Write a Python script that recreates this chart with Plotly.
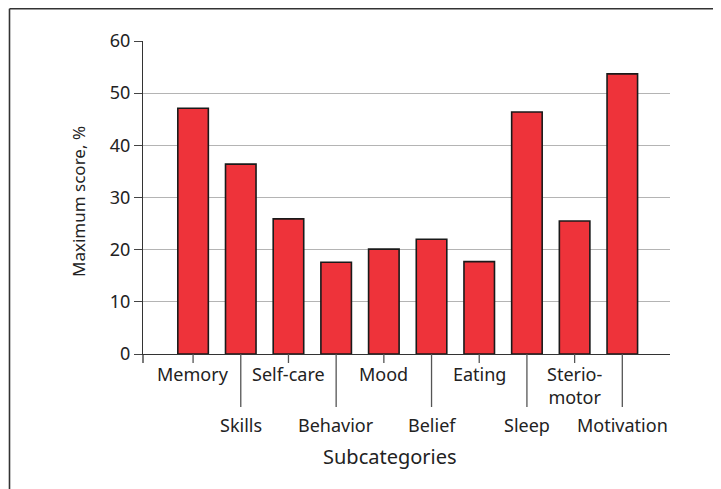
import plotly.graph_objects as go

categories = ["Memory", "Skills", "Self-care", "Behavior", "Mood",
              "Belief", "Eating", "Sleep", "Sterio-<br>motor", "Motivation"]
values = [47.1, 36.4, 25.9, 17.6, 20.1, 22.0, 17.7, 46.4, 25.5, 53.7]
y_ticks = [0, 10, 20, 30, 40, 50, 60]

FONT = "Noto Sans"
TXT = "#222222"
positions = list(range(len(categories)))

fig = go.Figure()
fig.add_trace(go.Bar(
    x=positions, y=values, width=0.64,
    marker=dict(color="#EE333A", line=dict(color="#1a1a1a", width=1.6)),
    hoverinfo="skip",
))

shapes = []
annotations = []
for i, (p, c) in enumerate(zip(positions, categories)):
    lower = i % 2 == 1
    shapes.append(dict(type="line", xref="x", yref="paper", x0=p, x1=p,
                       y0=0, y1=-(53 / 313) if lower else -(9 / 313),
                       line=dict(color="#555555", width=1.3)))
    annotations.append(dict(xref="x", yref="paper", x=p, y=0,
                            xanchor="center", yanchor="top",
                            yshift=-57 if lower else -6,
                            text=c, showarrow=False,
                            font=dict(family=FONT, size=18, color=TXT)))

# small tick at axis start
shapes.append(dict(type="line", xref="paper", yref="paper", x0=0, x1=0,
                   y0=0, y1=-(9 / 313), line=dict(color="#333333", width=1.3)))
# outer frame (left and top)
shapes.append(dict(type="line", xref="paper", yref="paper",
                   x0=(9.5 - 143) / 527, x1=(730 - 143) / 527,
                   y0=1 + (41 - 8.8) / 313, y1=1 + (41 - 8.8) / 313,
                   line=dict(color="#333333", width=1.6)))
shapes.append(dict(type="line", xref="paper", yref="paper",
                   x0=(9.5 - 143) / 527, x1=(9.5 - 143) / 527,
                   y0=1 + (41 - 8.8) / 313, y1=(354 - 495) / 313,
                   line=dict(color="#333333", width=1.6)))

annotations.append(dict(xref="paper", yref="paper", x=(390 - 143) / 527, y=0,
                        xanchor="center", yanchor="middle", yshift=-102,
                        text="Subcategories", showarrow=False,
                        font=dict(family=FONT, size=20, color=TXT)))
annotations.append(dict(xref="paper", yref="paper", x=(78 - 143) / 527,
                        y=(354 - 202) / 313, xanchor="center", yanchor="middle",
                        textangle=-90, text="Maximum score, %", showarrow=False,
                        font=dict(family=FONT, size=17, color=TXT)))

fig.update_layout(
    width=713, height=481,
    margin=dict(l=135, r=51, t=33, b=135),
    paper_bgcolor="white", plot_bgcolor="white",
    showlegend=False,
    shapes=shapes, annotations=annotations,
    xaxis=dict(range=[-1.05, 10.0], showticklabels=False, ticks="",
               showgrid=False, zeroline=False, showline=True,
               linecolor="#333333", linewidth=1.3, fixedrange=True),
    yaxis=dict(range=[0, 60], tickvals=y_ticks, ticks="outside", ticklen=8,
               tickcolor="#444444", tickwidth=1.2,
               showgrid=True, gridcolor="#b4b4b4", gridwidth=1.4,
               zeroline=False, showline=True, linecolor="#333333", linewidth=1.3,
               tickfont=dict(family=FONT, size=18, color=TXT), fixedrange=True),
)

fig.write_html("out.html")
